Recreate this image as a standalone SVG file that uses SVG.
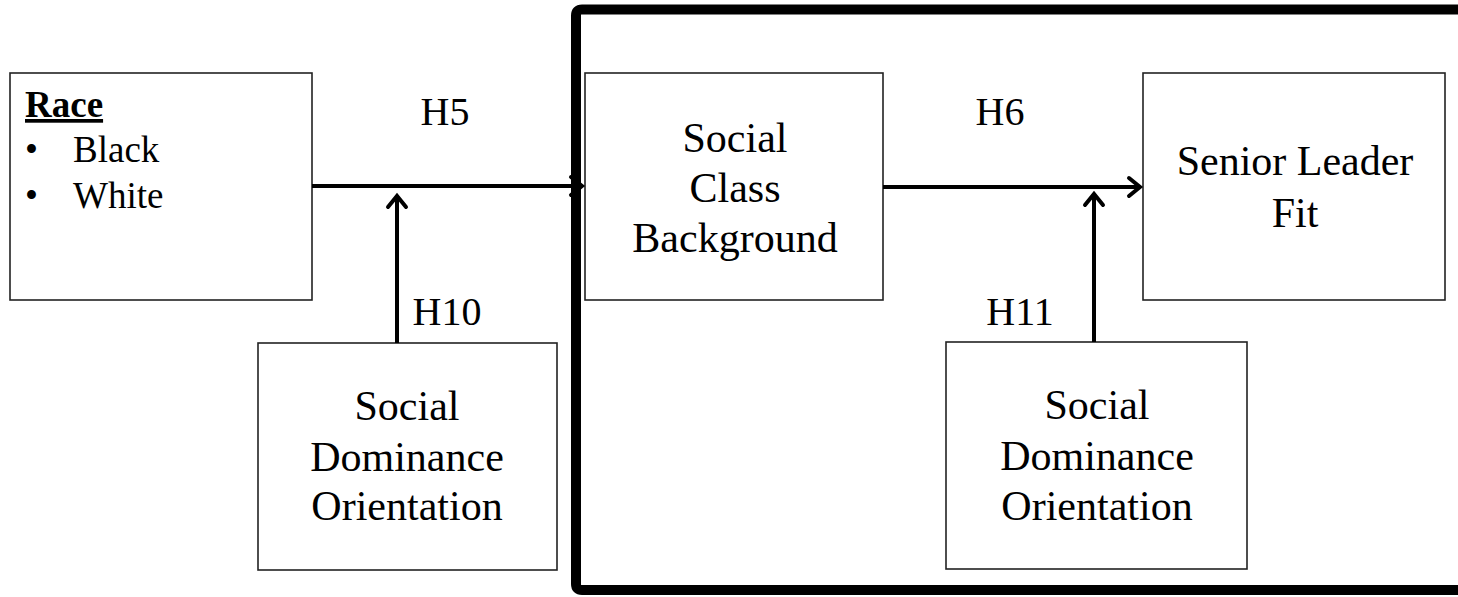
<svg xmlns="http://www.w3.org/2000/svg" width="1458" height="597" viewBox="0 0 1458 597">
<style>
.box{fill:#fff;stroke:#222;stroke-width:1.6}
.t{font-family:"Liberation Serif","Times New Roman",serif;font-size:42px;fill:#000;text-anchor:middle}
.h{font-family:"Liberation Serif","Times New Roman",serif;font-size:40px;fill:#000;text-anchor:middle}
.r{font-family:"Liberation Serif","Times New Roman",serif;font-size:37px;fill:#000}
.c{fill:none;stroke:#000;stroke-width:4}
</style>
<defs>
<marker id="ah" markerUnits="userSpaceOnUse" markerWidth="30" markerHeight="30" viewBox="-15 -15 30 30" refX="0" refY="0" orient="auto">
<path d="M-11,-9 L0,0 L-11,9" fill="none" stroke="#000" stroke-width="4" stroke-linejoin="miter" stroke-linecap="round"/>
</marker>
</defs>
<path id="frame" d="M1470,9.5 L582,9.5 Q576,9.5 576,15.5 L576,584 Q576,590 582,590 L1470,590" fill="none" stroke="#000" stroke-width="10"/>
<g id="race">
<rect class="box" x="10" y="73" width="302" height="227"/>
<text class="r" x="25" y="117" font-weight="bold" text-decoration="underline">Race</text>
<text class="r" x="25" y="162">•</text><text class="r" x="73" y="162">Black</text>
<text class="r" x="25" y="208">•</text><text class="r" x="73" y="208">White</text>
</g>
<g id="scb">
<rect class="box" x="585" y="73" width="298" height="227"/>
<text class="t" x="735" y="152">Social</text>
<text class="t" x="735" y="202">Class</text>
<text class="t" x="735" y="252">Background</text>
</g>
<g id="slf">
<rect class="box" x="1143" y="73" width="302" height="227"/>
<text class="t" x="1295" y="175">Senior Leader</text>
<text class="t" x="1295" y="227">Fit</text>
</g>
<g id="sdo1">
<rect class="box" x="258" y="343" width="299" height="227"/>
<text class="t" x="407" y="420">Social</text>
<text class="t" x="407" y="471">Dominance</text>
<text class="t" x="407" y="520">Orientation</text>
</g>
<g id="sdo2">
<rect class="box" x="946" y="342" width="301" height="227"/>
<text class="t" x="1097" y="419">Social</text>
<text class="t" x="1097" y="470">Dominance</text>
<text class="t" x="1097" y="520">Orientation</text>
</g>
<g id="connectors">
<line class="c" x1="312" y1="186" x2="582" y2="186" marker-end="url(#ah)"/>
<line class="c" x1="397" y1="343" x2="397" y2="196" marker-end="url(#ah)"/>
<line class="c" x1="883" y1="187" x2="1140" y2="187" marker-end="url(#ah)"/>
<line class="c" x1="1094" y1="342" x2="1094" y2="194" marker-end="url(#ah)"/>
</g>
<g id="labels">
<text class="h" x="445" y="125">H5</text>
<text class="h" x="1000" y="125">H6</text>
<text class="h" x="447" y="325">H10</text>
<text class="h" x="1020" y="325">H11</text>
</g>
</svg>
